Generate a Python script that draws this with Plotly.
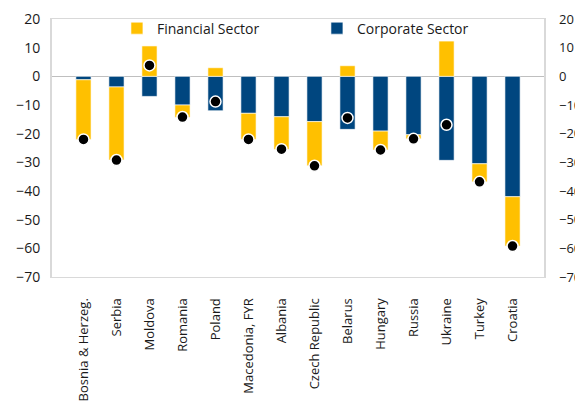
import plotly.graph_objects as go

countries = ["Bosnia & Herzeg.", "Serbia", "Moldova", "Romania", "Poland",
             "Macedonia, FYR", "Albania", "Czech Republic", "Belarus", "Hungary",
             "Russia", "Ukraine", "Turkey", "Croatia"]
corporate = [-1.2, -3.7, -7.0, -10.0, -12.0, -12.9, -14.1, -15.8, -18.5, -19.1, -20.4, -29.3, -30.5, -42.0]
financial = [-20.8, -25.5, 10.6, -4.3, 3.0, -9.1, -11.4, -15.4, 3.7, -6.6, -1.4, 12.3, -6.3, -17.2]
total = [-22.0, -29.2, 3.8, -14.2, -8.8, -22.0, -25.4, -31.2, -14.5, -25.7, -21.8, -16.9, -36.8, -59.2]
yticks = [20, 10, 0, -10, -20, -30, -40, -50, -60, -70]

YELLOW = "#FFC000"
BLUE = "#00467F"
FONT = "Open Sans"

fig = go.Figure()
fig.add_trace(go.Bar(x=countries, y=corporate, name="Corporate Sector", legendrank=2,
                     marker=dict(color=BLUE, line=dict(color="rgba(255,255,255,0.6)", width=1))))
fig.add_trace(go.Bar(x=countries, y=financial, name="Financial Sector", legendrank=1,
                     marker=dict(color=YELLOW, line=dict(color="rgba(255,255,255,0.6)", width=1))))
fig.add_trace(go.Scatter(x=countries, y=total, mode="markers", showlegend=False,
                         yaxis="y2",
                         marker=dict(color="black", size=11, line=dict(color="white", width=1.5))))

fig.update_layout(
    width=575, height=394,
    margin=dict(l=44, r=39, t=11, b=125, autoexpand=False),
    barmode="relative",
    bargap=0.54,
    plot_bgcolor="white", paper_bgcolor="white",
    font=dict(family=FONT, size=13, color="#1a1a1a"),
    showlegend=True,
    legend=dict(orientation="h", x=0.132, xanchor="left", y=1.025, yanchor="top",
                entrywidth=155, entrywidthmode="pixels", itemwidth=30,
                bgcolor="rgba(0,0,0,0)", font=dict(size=14, family=FONT)),
    xaxis=dict(tickangle=-90, showgrid=False, ticks="", showline=True, linecolor="#D9D9D9",
               linewidth=1, mirror=True, ticklabelstandoff=15, tickfont=dict(size=13),
               automargin=False),
    yaxis=dict(range=[-70, 20], tickvals=yticks, showgrid=False, zeroline=True,
               zerolinecolor="#BFBFBF", zerolinewidth=1, showline=True, linecolor="#D9D9D9",
               linewidth=2, mirror=True, ticks="", ticklabelstandoff=7, tickfont=dict(size=14),
               automargin=False),
    yaxis2=dict(range=[-70, 20], tickvals=yticks, overlaying="y", side="right", showgrid=False,
                zeroline=False, showline=False, ticks="", ticklabelstandoff=14,
                tickfont=dict(size=13), automargin=False),
)

fig.write_html("out.html")
